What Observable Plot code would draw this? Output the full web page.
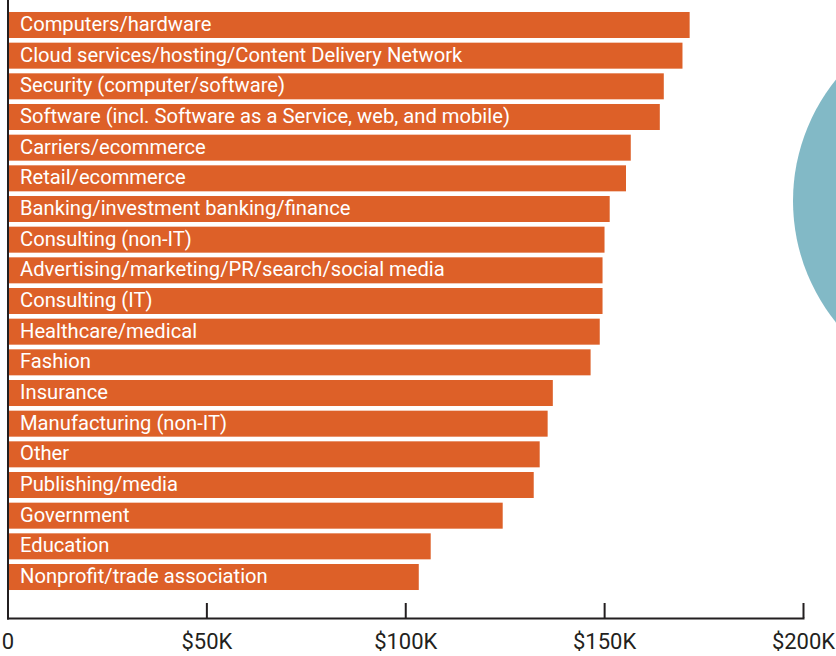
<!DOCTYPE html>
<html>
<head>
<meta charset="utf-8">
<script src="https://cdn.jsdelivr.net/npm/d3@7"></script>
<script src="https://cdn.jsdelivr.net/npm/@observablehq/plot@0.6"></script>
<style>
  html, body { margin: 0; padding: 0; background: #fff; overflow: hidden; }
  #wrap { position: relative; width: 836px; height: 656px; }
  #deco { position: absolute; left: 0; top: 0; }
  #chart { position: absolute; left: 0; top: 0; }
</style>
</head>
<body>
<div id="wrap">
  <svg id="deco" width="836" height="656"><circle cx="986" cy="201" r="193" fill="#82B9C6"></circle></svg>
  <div id="chart"></div>
</div>
<script>
const industries = [
  "Computers/hardware",
  "Cloud services/hosting/Content Delivery Network",
  "Security (computer/software)",
  "Software (incl. Software as a Service, web, and mobile)",
  "Carriers/ecommerce",
  "Retail/ecommerce",
  "Banking/investment banking/finance",
  "Consulting (non-IT)",
  "Advertising/marketing/PR/search/social media",
  "Consulting (IT)",
  "Healthcare/medical",
  "Fashion",
  "Insurance",
  "Manufacturing (non-IT)",
  "Other",
  "Publishing/media",
  "Government",
  "Education",
  "Nonprofit/trade association"
];
const salaries = [171500, 169700, 165000, 164000, 156700, 155500, 151400, 150100, 149600, 149600, 148900, 146600, 137100, 135800, 133800, 132300, 124500, 106400, 103400];
const tickValues = [0, 50000, 100000, 150000, 200000];
const tickLabels = ["0", "$50K", "$100K", "$150K", "$200K"];

const data = industries.map((name, i) => ({name, salary: salaries[i]}));

const chart = Plot.plot({
  width: 836,
  height: 656,
  marginTop: 0,
  marginLeft: 7.5,
  marginRight: 33,
  marginBottom: 38,
  insetBottom: 16,
  style: {background: "transparent", fontFamily: "Roboto, sans-serif"},
  x: {domain: [0, 200000], label: null},
  y: {domain: industries, paddingInner: 0.152, paddingOuter: 0.391, round: false, axis: null, label: null},
  marks: [
    Plot.barX(data, {y: "name", x: "salary", fill: "#DD6028"}),
    Plot.text(data, {y: "name", x: 0, text: "name", textAnchor: "start", dx: 12, dy: -1, fill: "#fff", fontSize: 20.2}),
    Plot.frame({anchor: "left", stroke: "#231F20", strokeWidth: 2}),
    Plot.frame({anchor: "bottom", stroke: "#231F20", strokeWidth: 2}),
    Plot.tickX(tickValues.slice(1), {x: d => d, stroke: "#231F20", strokeWidth: 2, insetTop: 603}),
    Plot.axisX({ticks: tickValues, tickSize: 0, tickPadding: 14.5, fontSize: 22, fill: "#231F20", label: null, tickFormat: (d) => tickLabels[tickValues.indexOf(d)]})
  ]
});
document.getElementById("chart").appendChild(chart);
</script>
</body>
</html>
